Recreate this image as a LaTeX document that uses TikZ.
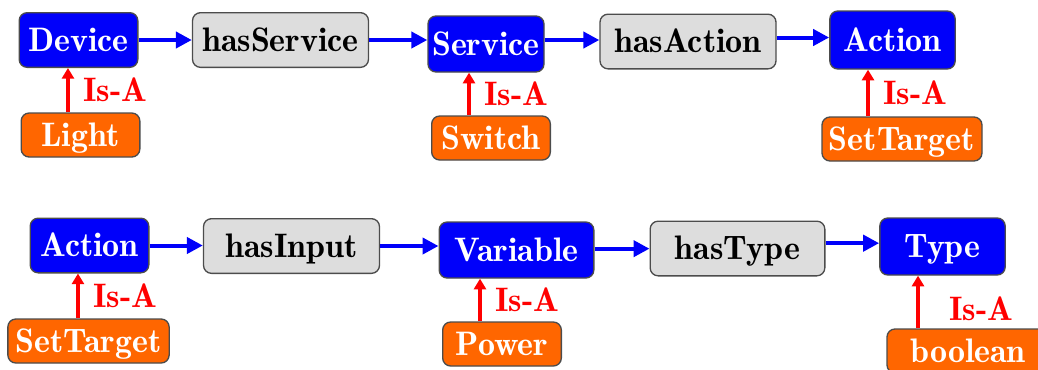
\documentclass[tikz,border=0pt]{standalone}
\usepackage{fontspec}
\newfontfamily\boxfam{lmromandemi10-regular.otf}
\usetikzlibrary{arrows.meta}
\definecolor{conceptblue}{RGB}{0,0,250}
\definecolor{relgray}{RGB}{221,221,221}
\definecolor{instorange}{RGB}{255,102,0}
\definecolor{isared}{RGB}{255,0,0}
\def\boxfont{\boxfam\fontsize{25.5}{28}\selectfont}
\tikzset{
  box/.style={draw=black!70, line width=1pt, rounded corners=6pt, font=\boxfont,
    text height=17pt, text depth=0pt, inner sep=0pt},
  concept/.style={box, fill=conceptblue, text=white, minimum height=41pt},
  relation/.style={box, fill=relgray, minimum width=132pt, minimum height=41pt},
  instance/.style={box, fill=instorange, text=white, minimum width=89pt, minimum height=33pt},
  hasarrow/.style={-{Triangle[length=12pt,width=12pt]}, line width=3pt, conceptblue},
  isa/.style={-{Triangle[length=8pt,width=9pt]}, line width=3pt, isared},
  isalabel/.style={right, xshift=10pt, inner sep=0pt, text=isared, font=\boxfont,
    text height=17pt, text depth=0pt}
}
\begin{document}
\begin{tikzpicture}[x=0.75pt,y=-0.75pt]
\useasboundingbox (0,0) rectangle (1038,369);
% device -> service -> action
\node[concept, minimum width=89pt] (device) at (78.5,40) {Device};
\node[relation] (hasservice) at (280.5,40) {hasService};
\node[concept, minimum width=87pt, minimum height=42pt] (service) at (486,44) {Service};
\node[relation] (hasaction) at (688,41.5) {hasAction};
\node[concept, minimum width=94pt, minimum height=43.5pt] (action) at (892.5,40) {Action};
\node[instance] (light) at (80.5,135) {Light};
\node[instance] (switch) at (491,138) {Switch};
\node[instance, minimum width=120pt] (settarget) at (902,139) {SetTarget};
\draw[hasarrow] (device.east) -- (device.east -| hasservice.west);
\draw[hasarrow] (hasservice.east) -- (hasservice.east -| service.west);
\draw[hasarrow] ([yshift=3pt]service.east) -- ([yshift=3pt]service.east -| hasaction.west);
\draw[hasarrow] ([yshift=3pt]hasaction.east) -- ([yshift=3pt]hasaction.east -| action.west);
\draw[isa] ([xshift=-9.4pt]light.north) -- ([xshift=-9.4pt]light.north |- device.south) node[isalabel, midway] (isa1) {Is-A};
\draw[isa] ([xshift=-16.5pt]switch.north) -- ([xshift=-16.5pt]switch.north |- service.south) node[isalabel, midway] (isa2) {Is-A};
\draw[isa] ([xshift=-25.5pt]settarget.north) -- ([xshift=-25.5pt]settarget.north |- action.south) node[isalabel, midway] (isa3) {Is-A};
% action -> variable -> type
\node[concept, minimum width=89pt] (action2) at (89.5,245.5) {Action};
\node[relation] (hasinput) at (291.5,246) {hasInput};
\node[concept, minimum width=116pt, minimum height=42pt] (variable) at (516.5,250) {Variable};
\node[relation, minimum width=131pt] (hastype) at (737.5,248.5) {hasType};
\node[concept, minimum width=94pt, minimum height=42.75pt] (type) at (942.5,246.5) {Type};
\node[instance, minimum width=121pt] (settarget2) at (88.5,341) {SetTarget};
\node[instance] (power) at (502,344) {Power};
\node[instance, minimum width=121.5pt] (boolean) at (968,351) {boolean};
\draw[hasarrow] (action2.east) -- (action2.east -| hasinput.west);
\draw[hasarrow] (hasinput.east) -- (hasinput.east -| variable.west);
\draw[hasarrow] ([yshift=1pt]variable.east) -- ([yshift=1pt]variable.east -| hastype.west);
\draw[hasarrow] ([yshift=4pt]hastype.east) -- ([yshift=4pt]hastype.east -| type.west);
\draw[isa] ([xshift=-7.9pt]settarget2.north) -- ([xshift=-7.9pt]settarget2.north |- action2.south) node[isalabel, midway] (isa4) {Is-A};
\draw[isa] ([xshift=-16.5pt]power.north) -- ([xshift=-16.5pt]power.north |- variable.south) node[isalabel, midway] (isa5) {Is-A};
\draw[isa] ([xshift=-37.5pt]boolean.north) -- ([xshift=-37.5pt]boolean.north |- type.south) node[isalabel, midway, xshift=12pt, yshift=-5pt] (isa6) {Is-A};
\end{tikzpicture}
\end{document}
